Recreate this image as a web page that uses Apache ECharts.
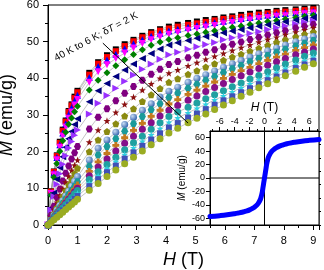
<!DOCTYPE html>
<html><head><meta charset="utf-8">
<script src="https://cdn.jsdelivr.net/npm/echarts@6/dist/echarts.min.js"></script>
<style>html,body{margin:0;padding:0;background:#fff}#c{width:324px;height:270px}</style>
</head><body><div id="c"></div>
<script>
// Field values (T) shared by all M(H) curves
const H = [0,0.1,0.2,0.3,0.4,0.5,0.6,0.7,0.8,0.9,1.0,1.4,1.7,2.0,2.3,2.6,2.9,3.2,3.5,3.8,4.1,4.4,4.75,5.05,5.35,5.65,5.95,6.25,6.55,6.85,7.15,7.45,7.75,8.05,8.4,8.7,9.0];
// Temperatures (K)
const temps = [6,8,10,12,14,16,18,20,22,24,26,28,30,32,34,36,38,40];
// Magnetization (emu/g) per temperature
const m6  = [0,9.2,14.6,19.0,22.7,26.0,28.5,31.1,32.9,35.0,36.6,41.5,44.4,46.3,47.9,49.3,50.5,51.6,52.6,53.4,54.1,54.6,55.1,55.5,55.9,56.2,56.6,56.9,57.3,57.6,57.9,58.1,58.4,58.6,58.8,59.0,59.2];
const m8  = [0,9.1,14.5,18.8,22.4,25.7,28.2,30.8,32.6,34.6,36.2,41.0,44.0,45.8,47.4,48.8,50.1,51.2,52.2,53.0,53.6,54.1,54.6,55.0,55.4,55.8,56.2,56.5,56.8,57.1,57.4,57.7,58.0,58.2,58.4,58.6,58.8];
const m10 = [0,8.9,14.2,18.4,21.9,25.1,27.6,30.1,31.9,33.8,35.4,40.2,43.2,45.0,46.6,48.1,49.4,50.5,51.5,52.3,52.9,53.4,53.9,54.4,54.8,55.2,55.6,55.9,56.3,56.6,56.9,57.2,57.4,57.7,57.9,58.1,58.3];
const m12 = [0,8.6,13.7,17.8,21.2,24.3,26.7,29.1,30.8,32.7,34.2,38.9,41.8,43.7,45.4,46.9,48.3,49.5,50.5,51.3,52.0,52.5,53.1,53.6,54.0,54.4,54.9,55.2,55.6,55.9,56.3,56.6,56.9,57.1,57.4,57.6,57.8];
const m14 = [0,8.1,13.0,16.8,20.1,23.0,25.3,27.5,29.2,30.9,32.4,36.8,39.5,41.5,43.4,45.1,46.5,47.8,49.0,49.9,50.6,51.1,51.7,52.1,52.6,53.0,53.5,53.9,54.3,54.7,55.1,55.5,55.8,56.2,56.6,56.9,57.2];
const m16 = [0,4.6,8.7,12.5,15.7,18.6,21.2,23.5,25.5,27.4,29.0,33.6,36.6,38.6,40.5,42.3,43.9,45.4,46.8,48.0,49.1,49.7,50.3,50.9,51.4,51.9,52.4,52.9,53.3,53.8,54.2,54.6,55.0,55.4,55.9,56.3,56.6];
const m18 = [0,4.1,7.8,11.1,14.0,16.6,18.9,21.0,22.8,24.5,25.9,30.3,33.2,35.3,37.3,39.2,40.9,42.5,43.9,45.2,46.4,47.1,47.9,48.6,49.2,49.8,50.5,51.1,51.6,52.2,52.7,53.3,53.8,54.3,54.8,55.3,55.7];
const m20 = [0,2.6,5.1,7.5,9.8,12.0,14.1,16.1,18.0,19.7,21.4,26.2,29.4,31.7,33.9,35.9,37.8,39.5,41.1,42.5,43.8,44.6,45.6,46.3,47.1,47.8,48.6,49.3,49.9,50.6,51.2,51.8,52.4,53.0,53.7,54.2,54.7];
const m22 = [0,2.1,4.2,6.2,8.1,9.9,11.7,13.3,14.9,16.3,17.7,22.6,25.9,28.4,30.7,32.9,34.9,36.8,38.5,40.0,41.4,42.3,43.4,44.3,45.2,46.0,46.8,47.6,48.4,49.1,49.9,50.6,51.2,51.9,52.6,53.2,53.8];
const m24 = [0,1.6,3.1,4.7,6.2,7.8,9.3,10.9,12.4,14.0,15.5,20.0,23.2,25.5,27.6,29.7,31.7,33.7,35.5,37.2,38.9,39.9,41.1,42.1,43.1,44.0,44.9,45.8,46.6,47.4,48.2,49.0,49.8,50.5,51.3,52.0,52.6];
const m26 = [0,1.3,2.6,4.0,5.3,6.6,7.9,9.2,10.6,11.9,13.2,17.7,20.9,23.2,25.3,27.4,29.4,31.3,33.1,34.9,36.5,37.6,38.9,40.0,41.0,42.0,43.0,44.0,44.9,45.8,46.7,47.5,48.3,49.1,50.0,50.7,51.4];
const m28 = [0,1.2,2.4,3.5,4.7,5.9,7.1,8.3,9.4,10.6,11.8,16.0,19.1,21.4,23.5,25.6,27.6,29.6,31.4,33.1,34.8,36.0,37.3,38.4,39.5,40.5,41.6,42.6,43.5,44.5,45.4,46.2,47.1,47.9,48.8,49.6,50.3];
const m30 = [0,1.1,2.2,3.3,4.4,5.5,6.5,7.6,8.7,9.8,10.9,14.6,17.2,19.5,21.7,23.8,25.8,27.7,29.6,31.3,33.0,34.2,35.6,36.8,37.9,39.0,40.0,41.1,42.1,43.0,44.0,44.9,45.8,46.6,47.6,48.4,49.1];
const m32 = [0,1.0,2.0,3.0,4.0,5.0,6.0,7.0,8.0,9.0,10.0,13.4,15.8,18.0,20.2,22.3,24.2,26.1,27.9,29.7,31.3,32.6,34.0,35.2,36.4,37.5,38.6,39.7,40.7,41.7,42.7,43.6,44.5,45.4,46.4,47.2,48.0];
const m34 = [0,0.9,1.9,2.8,3.8,4.7,5.6,6.6,7.5,8.5,9.4,12.4,14.5,16.5,18.5,20.5,22.4,24.2,26.1,27.9,29.6,30.8,32.1,33.3,34.4,35.5,36.6,37.7,38.7,39.8,40.8,41.8,42.9,43.9,45.0,46.0,46.9];
const m36 = [0,0.9,1.7,2.6,3.4,4.3,5.2,6.0,6.9,7.7,8.6,11.4,13.4,15.4,17.3,19.2,21.0,22.8,24.6,26.3,28.0,29.2,30.6,31.8,32.9,34.1,35.2,36.3,37.4,38.5,39.5,40.6,41.6,42.7,43.8,44.8,45.8];
const m38 = [0,0.8,1.6,2.4,3.2,4.0,4.7,5.5,6.3,7.1,7.9,10.6,12.5,14.4,16.2,18.1,19.8,21.6,23.3,25.0,26.6,27.8,29.3,30.4,31.6,32.8,34.0,35.1,36.2,37.3,38.4,39.5,40.5,41.6,42.8,43.8,44.8];
const m40 = [0,0.7,1.4,2.1,2.8,3.5,4.2,4.9,5.6,6.3,7.0,9.5,11.3,13.2,15.0,16.7,18.5,20.2,21.9,23.5,25.1,26.4,27.9,29.1,30.3,31.5,32.7,33.9,35.1,36.2,37.4,38.5,39.6,40.7,41.9,43.0,44.0];
const curves = [m6,m8,m10,m12,m14,m16,m18,m20,m22,m24,m26,m28,m30,m32,m34,m36,m38,m40];

// Inset hysteresis loop
const insetH = [-7.3,-6,-5,-4,-3.5,-3,-2.5,-2,-1.5,-1.25,-1,-0.8,-0.6,-0.5,-0.4,-0.3,-0.2,-0.1,0,0.1,0.2,0.3,0.4,0.5,0.6,0.8,1,1.25,1.5,2,2.5,3,3.5,4,5,6,7.3];
const insetM = [-57.5,-56.1,-54.8,-53.2,-52.2,-51,-49.5,-47.5,-44.5,-42.5,-40,-37,-33,-30,-26,-21,-14,-7,0,7,14,21,26,30,33,37,40,42.5,44.5,47.5,49.5,51,52.2,53.2,54.8,56.1,57.5];
// Inset crosshair (H = 0 and M = 0)
const insetXRange = [-7.3, 7.3];
const insetYRange = [-70, 70];

// Tick values
const insetXLabels = [-6,-4,-2,0,2,4,6];
const insetXMinor = [-7,-5,-3,-1,1,3,5,7];
const insetYLabels = [-60,-40,-20,0,20,40,60];
const insetYMinor = [-70,-50,-30,-10,10,30,50,70];

// Annotation (data coords)
const arrowFrom = [4.75, 27.8];
const arrowTo = [1.86, 49.6];
const noteAt = [1.63, 51.3];

const STAR = 'path://M0,-10 L2.35,-3.24 L9.51,-3.09 L3.8,1.24 L5.88,8.09 L0,4 L-5.88,8.09 L-3.8,1.24 L-9.51,-3.09 L-2.35,-3.24 Z';
const PENT = 'path://M0,-10 L9.51,-3.09 L5.88,8.09 L-5.88,8.09 L-9.51,-3.09 Z';
const HEX = 'path://M-5,-8.66 L5,-8.66 L10,0 L5,8.66 L-5,8.66 L-10,0 Z';
const CROSS = 'path://M-4,-10 L4,-10 L4,-4 L10,-4 L10,4 L4,4 L4,10 L-4,10 L-4,4 L-10,4 L-10,-4 L-4,-4 Z';
const sphere = {type:'radial',x:0.35,y:0.35,r:0.75,colorStops:[{offset:0,color:'#c8dcf4'},{offset:1,color:'#2a5aa8'}]};
const styles = [
  {c:'#000000', s:'rect'},
  {c:'#ff0000', s:'rect'},
  {c:'#0000ff', s:'triangle'},
  {c:'#ff00ff', s:'triangle', r:180},
  {c:'#008000', s:'diamond'},
  {c:'#000080', s:'triangle', r:90},
  {c:'#9a30ff', s:'triangle', r:-90},
  {c:'#800080', s:HEX},
  {c:'#8b1010', s:STAR},
  {c:'#8a8a10', s:PENT},
  {c:sphere, s:'circle'},
  {c:'#1a9a9a', s:HEX},
  {c:'#c47a1e', s:CROSS},
  {c:'#85108a', s:'circle'},
  {c:'#20a0a0', s:'circle'},
  {c:'#30d0e0', s:STAR},
  {c:'#4050b8', s:'rect'},
  {c:'#9aac22', s:'circle'}
];

const FONT = 'Arial, "Liberation Sans", sans-serif';
const chart = echarts.init(document.getElementById('c'), null, {renderer:'canvas'});

const series = curves.map((m, k) => {
  const st = styles[k];
  return {
    type:'line', name: temps[k] + ' K', xAxisIndex:0, yAxisIndex:0,
    data: H.map((h,i)=>[h, m[i]]),
    symbol: st.s, symbolSize: st.s==='rect' ? 6 : 7, symbolRotate: st.r || 0,
    showSymbol:true, showAllSymbol:true,
    itemStyle:{color: st.c, borderWidth:0},
    lineStyle:{color:'#9a9a9a', width:0.6},
    animation:false, z: 2
  };
});
series[0].markLine = {
  silent:true, animation:false,
  symbol:['none','arrow'], symbolSize:[0,8],
  lineStyle:{color:'#000', width:1, type:'solid'},
  label:{show:false},
  data:[[{coord:arrowFrom},{coord:arrowTo}]]
};
series.push({
  type:'line', xAxisIndex:1, yAxisIndex:1,
  data: insetYRange.map(v=>[0, v]), showSymbol:false,
  lineStyle:{color:'#000', width:1}, animation:false, z:15
});
series.push({
  type:'line', xAxisIndex:1, yAxisIndex:1,
  data: insetXRange.map(v=>[v, 0]), showSymbol:false,
  lineStyle:{color:'#000', width:1}, animation:false, z:15
});
series.push({
  type:'line', xAxisIndex:1, yAxisIndex:1,
  data: insetH.map((h,i)=>[h, insetM[i]]),
  showSymbol:false, smooth:true,
  lineStyle:{color:'#0000ff', width:5, cap:'round'},
  animation:false, z:20
});

const axisBase = {
  axisLine:{show:true, onZero:false, lineStyle:{color:'#000', width:1}},
  splitLine:{show:false}
};

chart.setOption({
  backgroundColor:'#fff',
  animation:false,
  grid:[
    {left:48, right:5, top:5, bottom:45, outerBoundsMode:'none', containLabel:false, show:true, borderColor:'#000', borderWidth:1, backgroundColor:'transparent'},
    {left:210, right:5, top:131, bottom:45, outerBoundsMode:'none', containLabel:false, show:true, borderColor:'#000', borderWidth:1, backgroundColor:'#fff', z:10}
  ],
  xAxis:[
    Object.assign({}, axisBase, {
      gridIndex:0, type:'value', min:0, max:9.19, interval:1,
      axisTick:{show:true, inside:false, length:5, lineStyle:{color:'#000'}},
      minorTick:{show:true, splitNumber:2, length:3, lineStyle:{color:'#000'}},
      axisLabel:{fontSize:11, color:'#000', fontFamily:FONT, margin:10,
        formatter:v => (Math.abs(v-Math.round(v))<1e-6 && v<=9 ? String(Math.round(v)) : '')},
      name:'{i|H} (T)', nameLocation:'middle', nameGap:23,
      nameTextStyle:{fontSize:18, color:'#000', fontFamily:FONT, rich:{i:{fontSize:18, fontStyle:'italic', fontFamily:FONT, color:'#000'}}}
    }),
    Object.assign({}, axisBase, {
      gridIndex:1, type:'value', min:-7.3, max:7.3, position:'top', z:11,
      axisTick:{show:true, inside:false, length:4, customValues:insetXLabels, lineStyle:{color:'#000'}},
      axisLabel:{fontSize:9, color:'#000', fontFamily:FONT, margin:5, customValues:insetXLabels},
      name:'{i|H} (T)', nameLocation:'middle', nameGap:17,
      nameTextStyle:{fontSize:12, color:'#000', fontFamily:FONT, rich:{i:{fontSize:12, fontStyle:'italic', fontFamily:FONT, color:'#000'}}}
    }),
    {gridIndex:1, type:'value', min:-7.3, max:7.3, position:'top', z:11,
      axisLine:{show:false, onZero:false}, splitLine:{show:false}, axisLabel:{show:false},
      axisTick:{show:true, inside:false, length:2, customValues:insetXMinor, lineStyle:{color:'#000'}}}
  ],
  yAxis:[
    Object.assign({}, axisBase, {
      gridIndex:0, type:'value', min:0, max:60, interval:10,
      axisTick:{show:true, inside:false, length:5, lineStyle:{color:'#000'}},
      minorTick:{show:true, splitNumber:2, length:3, lineStyle:{color:'#000'}},
      axisLabel:{fontSize:11, color:'#000', fontFamily:FONT, margin:9},
      name:'{i|M} (emu/g)', nameLocation:'middle', nameGap:31,
      nameTextStyle:{fontSize:18, color:'#000', fontFamily:FONT, rich:{i:{fontSize:18, fontStyle:'italic', fontFamily:FONT, color:'#000'}}}
    }),
    Object.assign({}, axisBase, {
      gridIndex:1, type:'value', min:-70, max:70, z:11,
      axisTick:{show:true, inside:false, length:4, customValues:insetYLabels, lineStyle:{color:'#000'}},
      axisLabel:{fontSize:9, color:'#000', fontFamily:FONT, margin:5, customValues:insetYLabels},
      name:'{i|M} (emu/g)', nameLocation:'middle', nameGap:23,
      nameTextStyle:{fontSize:10, color:'#000', fontFamily:FONT, rich:{i:{fontSize:10, fontStyle:'italic', fontFamily:FONT, color:'#000'}}}
    }),
    {gridIndex:1, type:'value', min:-70, max:70, z:11,
      axisLine:{show:false, onZero:false}, splitLine:{show:false}, axisLabel:{show:false},
      axisTick:{show:true, inside:false, length:2, customValues:insetYMinor, lineStyle:{color:'#000'}}}
  ],
  series: series
});

const p = chart.convertToPixel({gridIndex:0}, noteAt);
chart.setOption({
  graphic:[{
    type:'text', x:p[0], y:p[1], rotation: 28*Math.PI/180, z:50,
    style:{text:'40 K to 6 K; δ{i|T} = 2 K', fill:'#000', font:'10px ' + FONT,
      align:'center', verticalAlign:'middle',
      rich:{i:{fontStyle:'italic', fontSize:10, fontFamily:FONT, fill:'#000'}}}
  }]
});
</script></body></html>
